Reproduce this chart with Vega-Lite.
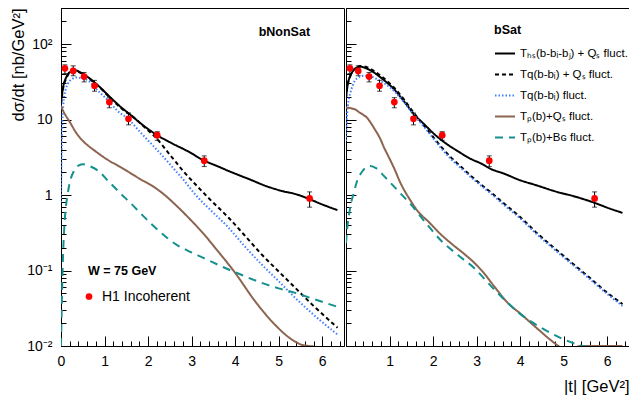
{
"$schema": "https://vega.github.io/schema/vega-lite/v6.json",
"padding": {"left": 10, "top": 7, "right": 0, "bottom": 0},
"config": {
 "view": {"stroke": "#000", "strokeWidth": 1},
 "font": "Liberation Sans",
 "axis": {"grid": false, "domainColor": "#000", "tickColor": "#000", "labelColor": "#000", "labelFont": "Liberation Sans", "labelFontSize": 14, "titleFont": "Liberation Sans", "titleFontSize": 16.5, "titleFontWeight": "normal", "titleColor": "#000", "tickWidth": 1, "domainWidth": 1, "labelFlush": false, "labelOverlap": false},
 "legend": {"labelFont": "Liberation Sans", "titleFont": "Liberation Sans", "labelColor": "#000", "titleColor": "#000"}
},
"datasets": {
 "h1": [
  {"t": 0.09, "v": 47.7, "lo": 40.7, "hi": 53, "src": "H1  Incoherent"},
  {"t": 0.28, "v": 44, "lo": 38, "hi": 51.4, "src": "H1  Incoherent"},
  {"t": 0.53, "v": 37, "lo": 31.5, "hi": 42, "src": "H1  Incoherent"},
  {"t": 0.77, "v": 28, "lo": 23.7, "hi": 33, "src": "H1  Incoherent"},
  {"t": 1.11, "v": 17, "lo": 14.3, "hi": 19.5, "src": "H1  Incoherent"},
  {"t": 1.55, "v": 10.2, "lo": 8.5, "hi": 12.2, "src": "H1  Incoherent"},
  {"t": 2.21, "v": 6.2, "lo": 5.3, "hi": 6.9, "src": "H1  Incoherent"},
  {"t": 3.29, "v": 2.85, "lo": 2.38, "hi": 3.3, "src": "H1  Incoherent"},
  {"t": 5.71, "v": 0.9, "lo": 0.69, "hi": 1.1, "src": "H1  Incoherent"}
 ],
 "curves": [
  {"p":"N","s":"hs","t":0,"v":16.8},{"p":"N","s":"hs","t":0.03,"v":23},{"p":"N","s":"hs","t":0.06,"v":29},{"p":"N","s":"hs","t":0.1,"v":34},{"p":"N","s":"hs","t":0.16,"v":40},{"p":"N","s":"hs","t":0.24,"v":43.5},{"p":"N","s":"hs","t":0.32,"v":45},{"p":"N","s":"hs","t":0.45,"v":42},{"p":"N","s":"hs","t":0.63,"v":36},{"p":"N","s":"hs","t":0.8,"v":30},{"p":"N","s":"hs","t":0.94,"v":25.3},{"p":"N","s":"hs","t":1.1,"v":20.5},{"p":"N","s":"hs","t":1.39,"v":14.4},{"p":"N","s":"hs","t":1.6,"v":11.5},{"p":"N","s":"hs","t":1.85,"v":8.7},{"p":"N","s":"hs","t":2.2,"v":6.25},{"p":"N","s":"hs","t":2.5,"v":5.0},{"p":"N","s":"hs","t":2.93,"v":3.75},{"p":"N","s":"hs","t":3.29,"v":2.85},{"p":"N","s":"hs","t":3.6,"v":2.4},{"p":"N","s":"hs","t":3.85,"v":2.08},{"p":"N","s":"hs","t":4.38,"v":1.57},{"p":"N","s":"hs","t":4.7,"v":1.32},{"p":"N","s":"hs","t":4.92,"v":1.2},{"p":"N","s":"hs","t":5.1,"v":1.12},{"p":"N","s":"hs","t":5.3,"v":1.06},{"p":"N","s":"hs","t":5.5,"v":0.98},{"p":"N","s":"hs","t":5.71,"v":0.88},{"p":"N","s":"hs","t":6.0,"v":0.75},{"p":"N","s":"hs","t":6.35,"v":0.63},
  {"p":"N","s":"qQs","t":0,"v":16},{"p":"N","s":"qQs","t":0.03,"v":22},{"p":"N","s":"qQs","t":0.06,"v":28},{"p":"N","s":"qQs","t":0.1,"v":33},{"p":"N","s":"qQs","t":0.16,"v":39},{"p":"N","s":"qQs","t":0.24,"v":43},{"p":"N","s":"qQs","t":0.32,"v":44},{"p":"N","s":"qQs","t":0.45,"v":41.5},{"p":"N","s":"qQs","t":0.63,"v":35.5},{"p":"N","s":"qQs","t":0.8,"v":29.5},{"p":"N","s":"qQs","t":0.94,"v":25},{"p":"N","s":"qQs","t":1.1,"v":20},{"p":"N","s":"qQs","t":1.39,"v":14},{"p":"N","s":"qQs","t":1.7,"v":10.3},{"p":"N","s":"qQs","t":1.95,"v":7.6},{"p":"N","s":"qQs","t":2.16,"v":5.9},{"p":"N","s":"qQs","t":2.54,"v":3.2},{"p":"N","s":"qQs","t":2.8,"v":2.1},{"p":"N","s":"qQs","t":3.08,"v":1.4},{"p":"N","s":"qQs","t":3.4,"v":0.9},{"p":"N","s":"qQs","t":3.85,"v":0.5},{"p":"N","s":"qQs","t":4.2,"v":0.3},{"p":"N","s":"qQs","t":4.61,"v":0.163},{"p":"N","s":"qQs","t":5.0,"v":0.097},{"p":"N","s":"qQs","t":5.38,"v":0.059},{"p":"N","s":"qQs","t":5.8,"v":0.034},{"p":"N","s":"qQs","t":6.35,"v":0.0175},
  {"p":"N","s":"q","t":0,"v":0.8},{"p":"N","s":"q","t":0.01,"v":2.5},{"p":"N","s":"q","t":0.025,"v":7},{"p":"N","s":"q","t":0.05,"v":15},{"p":"N","s":"q","t":0.1,"v":24},{"p":"N","s":"q","t":0.16,"v":30},{"p":"N","s":"q","t":0.24,"v":34},{"p":"N","s":"q","t":0.36,"v":36},{"p":"N","s":"q","t":0.5,"v":35},{"p":"N","s":"q","t":0.63,"v":32.6},{"p":"N","s":"q","t":0.85,"v":24},{"p":"N","s":"q","t":1.09,"v":17.7},{"p":"N","s":"q","t":1.3,"v":13},{"p":"N","s":"q","t":1.55,"v":10.1},{"p":"N","s":"q","t":1.8,"v":7},{"p":"N","s":"q","t":2.01,"v":5.2},{"p":"N","s":"q","t":2.31,"v":3.4},{"p":"N","s":"q","t":2.6,"v":2.2},{"p":"N","s":"q","t":2.85,"v":1.5},{"p":"N","s":"q","t":3.08,"v":1.02},{"p":"N","s":"q","t":3.45,"v":0.62},{"p":"N","s":"q","t":3.85,"v":0.368},{"p":"N","s":"q","t":4.2,"v":0.215},{"p":"N","s":"q","t":4.61,"v":0.12},{"p":"N","s":"q","t":5.0,"v":0.072},{"p":"N","s":"q","t":5.38,"v":0.0434},{"p":"N","s":"q","t":5.8,"v":0.026},{"p":"N","s":"q","t":6.35,"v":0.0142},
  {"p":"N","s":"PQs","t":0,"v":15.2},{"p":"N","s":"PQs","t":0.05,"v":13},{"p":"N","s":"PQs","t":0.1,"v":11.5},{"p":"N","s":"PQs","t":0.2,"v":9.3},{"p":"N","s":"PQs","t":0.32,"v":7.07},{"p":"N","s":"PQs","t":0.45,"v":5.6},{"p":"N","s":"PQs","t":0.63,"v":4.47},{"p":"N","s":"PQs","t":0.78,"v":3.84},{"p":"N","s":"PQs","t":1.05,"v":2.98},{"p":"N","s":"PQs","t":1.39,"v":2.3},{"p":"N","s":"PQs","t":1.8,"v":1.65},{"p":"N","s":"PQs","t":2.16,"v":1.25},{"p":"N","s":"PQs","t":2.4,"v":0.98},{"p":"N","s":"PQs","t":2.6,"v":0.77},{"p":"N","s":"PQs","t":2.93,"v":0.5},{"p":"N","s":"PQs","t":3.31,"v":0.29},{"p":"N","s":"PQs","t":3.54,"v":0.2},{"p":"N","s":"PQs","t":4.0,"v":0.093},{"p":"N","s":"PQs","t":4.46,"v":0.039},{"p":"N","s":"PQs","t":4.92,"v":0.019},{"p":"N","s":"PQs","t":5.3,"v":0.0122},{"p":"N","s":"PQs","t":5.55,"v":0.0103},{"p":"N","s":"PQs","t":5.8,"v":0.0099},
  {"p":"N","s":"PBG","t":0,"v":0.01},{"p":"N","s":"PBG","t":0.02,"v":0.04},{"p":"N","s":"PBG","t":0.04,"v":0.12},{"p":"N","s":"PBG","t":0.06,"v":0.25},{"p":"N","s":"PBG","t":0.09,"v":0.5},{"p":"N","s":"PBG","t":0.15,"v":1.0},{"p":"N","s":"PBG","t":0.21,"v":1.53},{"p":"N","s":"PBG","t":0.3,"v":2.1},{"p":"N","s":"PBG","t":0.4,"v":2.45},{"p":"N","s":"PBG","t":0.51,"v":2.55},{"p":"N","s":"PBG","t":0.65,"v":2.42},{"p":"N","s":"PBG","t":0.86,"v":2.08},{"p":"N","s":"PBG","t":1.1,"v":1.5},{"p":"N","s":"PBG","t":1.39,"v":1.02},{"p":"N","s":"PBG","t":1.6,"v":0.78},{"p":"N","s":"PBG","t":1.85,"v":0.555},{"p":"N","s":"PBG","t":2.1,"v":0.4},{"p":"N","s":"PBG","t":2.39,"v":0.285},{"p":"N","s":"PBG","t":2.65,"v":0.22},{"p":"N","s":"PBG","t":2.93,"v":0.181},{"p":"N","s":"PBG","t":3.27,"v":0.147},{"p":"N","s":"PBG","t":3.85,"v":0.103},{"p":"N","s":"PBG","t":4.2,"v":0.085},{"p":"N","s":"PBG","t":4.61,"v":0.0686},{"p":"N","s":"PBG","t":5.0,"v":0.058},{"p":"N","s":"PBG","t":5.38,"v":0.0505},{"p":"N","s":"PBG","t":5.8,"v":0.042},{"p":"N","s":"PBG","t":6.35,"v":0.033},
  {"p":"S","s":"hs","t":0,"v":19.5},{"p":"S","s":"hs","t":0.03,"v":27},{"p":"S","s":"hs","t":0.06,"v":33},{"p":"S","s":"hs","t":0.1,"v":38},{"p":"S","s":"hs","t":0.16,"v":44},{"p":"S","s":"hs","t":0.24,"v":48.5},{"p":"S","s":"hs","t":0.33,"v":50},{"p":"S","s":"hs","t":0.45,"v":48},{"p":"S","s":"hs","t":0.64,"v":42},{"p":"S","s":"hs","t":0.85,"v":34},{"p":"S","s":"hs","t":1.1,"v":25.3},{"p":"S","s":"hs","t":1.33,"v":17.5},{"p":"S","s":"hs","t":1.56,"v":11.8},{"p":"S","s":"hs","t":1.8,"v":8.6},{"p":"S","s":"hs","t":2.03,"v":6.4},{"p":"S","s":"hs","t":2.3,"v":4.8},{"p":"S","s":"hs","t":2.57,"v":3.8},{"p":"S","s":"hs","t":2.87,"v":3.0},{"p":"S","s":"hs","t":3.11,"v":2.6},{"p":"S","s":"hs","t":3.3,"v":2.25},{"p":"S","s":"hs","t":3.65,"v":1.9},{"p":"S","s":"hs","t":3.96,"v":1.6},{"p":"S","s":"hs","t":4.4,"v":1.33},{"p":"S","s":"hs","t":4.8,"v":1.12},{"p":"S","s":"hs","t":5.27,"v":0.95},{"p":"S","s":"hs","t":5.73,"v":0.78},{"p":"S","s":"hs","t":6.0,"v":0.68},{"p":"S","s":"hs","t":6.35,"v":0.58},
  {"p":"S","s":"qQs","t":0,"v":19},{"p":"S","s":"qQs","t":0.03,"v":27},{"p":"S","s":"qQs","t":0.06,"v":33},{"p":"S","s":"qQs","t":0.1,"v":38},{"p":"S","s":"qQs","t":0.16,"v":44},{"p":"S","s":"qQs","t":0.24,"v":49},{"p":"S","s":"qQs","t":0.33,"v":51},{"p":"S","s":"qQs","t":0.45,"v":50},{"p":"S","s":"qQs","t":0.64,"v":44},{"p":"S","s":"qQs","t":0.85,"v":36},{"p":"S","s":"qQs","t":1.1,"v":26.5},{"p":"S","s":"qQs","t":1.33,"v":18.5},{"p":"S","s":"qQs","t":1.56,"v":12.2},{"p":"S","s":"qQs","t":1.8,"v":8.2},{"p":"S","s":"qQs","t":2.03,"v":5.6},{"p":"S","s":"qQs","t":2.18,"v":4.4},{"p":"S","s":"qQs","t":2.41,"v":3.15},{"p":"S","s":"qQs","t":2.65,"v":2.35},{"p":"S","s":"qQs","t":2.87,"v":1.79},{"p":"S","s":"qQs","t":3.1,"v":1.38},{"p":"S","s":"qQs","t":3.34,"v":1.07},{"p":"S","s":"qQs","t":3.65,"v":0.753},{"p":"S","s":"qQs","t":4.0,"v":0.51},{"p":"S","s":"qQs","t":4.42,"v":0.3},{"p":"S","s":"qQs","t":4.8,"v":0.195},{"p":"S","s":"qQs","t":5.19,"v":0.126},{"p":"S","s":"qQs","t":5.6,"v":0.08},{"p":"S","s":"qQs","t":5.96,"v":0.053},{"p":"S","s":"qQs","t":6.35,"v":0.036},
  {"p":"S","s":"q","t":0,"v":5.2},{"p":"S","s":"q","t":0.015,"v":9},{"p":"S","s":"q","t":0.03,"v":12.5},{"p":"S","s":"q","t":0.06,"v":18},{"p":"S","s":"q","t":0.1,"v":22.5},{"p":"S","s":"q","t":0.16,"v":29},{"p":"S","s":"q","t":0.25,"v":35},{"p":"S","s":"q","t":0.4,"v":38},{"p":"S","s":"q","t":0.55,"v":37.5},{"p":"S","s":"q","t":0.7,"v":34.5},{"p":"S","s":"q","t":0.85,"v":31},{"p":"S","s":"q","t":1.1,"v":24},{"p":"S","s":"q","t":1.33,"v":17},{"p":"S","s":"q","t":1.56,"v":11.5},{"p":"S","s":"q","t":1.8,"v":7.9},{"p":"S","s":"q","t":2.03,"v":5.4},{"p":"S","s":"q","t":2.18,"v":4.2},{"p":"S","s":"q","t":2.41,"v":3.0},{"p":"S","s":"q","t":2.65,"v":2.25},{"p":"S","s":"q","t":2.87,"v":1.72},{"p":"S","s":"q","t":3.1,"v":1.33},{"p":"S","s":"q","t":3.34,"v":1.03},{"p":"S","s":"q","t":3.65,"v":0.72},{"p":"S","s":"q","t":4.0,"v":0.49},{"p":"S","s":"q","t":4.42,"v":0.288},{"p":"S","s":"q","t":4.8,"v":0.187},{"p":"S","s":"q","t":5.19,"v":0.121},{"p":"S","s":"q","t":5.6,"v":0.077},{"p":"S","s":"q","t":5.96,"v":0.051},{"p":"S","s":"q","t":6.35,"v":0.034},
  {"p":"S","s":"PQs","t":0,"v":14.4},{"p":"S","s":"PQs","t":0.07,"v":14.3},{"p":"S","s":"PQs","t":0.14,"v":14},{"p":"S","s":"PQs","t":0.22,"v":13.5},{"p":"S","s":"PQs","t":0.3,"v":12.5},{"p":"S","s":"PQs","t":0.4,"v":11.5},{"p":"S","s":"PQs","t":0.48,"v":10.6},{"p":"S","s":"PQs","t":0.56,"v":9.2},{"p":"S","s":"PQs","t":0.65,"v":7.6},{"p":"S","s":"PQs","t":0.79,"v":5.5},{"p":"S","s":"PQs","t":0.87,"v":4.3},{"p":"S","s":"PQs","t":0.98,"v":3.2},{"p":"S","s":"PQs","t":1.1,"v":2.3},{"p":"S","s":"PQs","t":1.25,"v":1.45},{"p":"S","s":"PQs","t":1.49,"v":0.83},{"p":"S","s":"PQs","t":1.64,"v":0.62},{"p":"S","s":"PQs","t":1.9,"v":0.44},{"p":"S","s":"PQs","t":2.18,"v":0.3},{"p":"S","s":"PQs","t":2.45,"v":0.22},{"p":"S","s":"PQs","t":2.72,"v":0.165},{"p":"S","s":"PQs","t":2.95,"v":0.126},{"p":"S","s":"PQs","t":3.15,"v":0.095},{"p":"S","s":"PQs","t":3.4,"v":0.062},{"p":"S","s":"PQs","t":3.72,"v":0.037},{"p":"S","s":"PQs","t":4.0,"v":0.027},{"p":"S","s":"PQs","t":4.42,"v":0.0165},{"p":"S","s":"PQs","t":4.7,"v":0.012},{"p":"S","s":"PQs","t":4.88,"v":0.01},{"p":"S","s":"PQs","t":5.1,"v":0.0085},{"p":"S","s":"PQs","t":5.38,"v":0.01},{"p":"S","s":"PQs","t":6.35,"v":0.01},
  {"p":"S","s":"PBG","t":0,"v":0.23},{"p":"S","s":"PBG","t":0.015,"v":0.3},{"p":"S","s":"PBG","t":0.03,"v":0.37},{"p":"S","s":"PBG","t":0.08,"v":0.6},{"p":"S","s":"PBG","t":0.12,"v":0.8},{"p":"S","s":"PBG","t":0.17,"v":1.02},{"p":"S","s":"PBG","t":0.25,"v":1.5},{"p":"S","s":"PBG","t":0.33,"v":1.88},{"p":"S","s":"PBG","t":0.45,"v":2.3},{"p":"S","s":"PBG","t":0.56,"v":2.43},{"p":"S","s":"PBG","t":0.7,"v":2.25},{"p":"S","s":"PBG","t":0.87,"v":1.79},{"p":"S","s":"PBG","t":1.1,"v":1.3},{"p":"S","s":"PBG","t":1.3,"v":0.98},{"p":"S","s":"PBG","t":1.49,"v":0.75},{"p":"S","s":"PBG","t":1.8,"v":0.45},{"p":"S","s":"PBG","t":2.18,"v":0.25},{"p":"S","s":"PBG","t":2.57,"v":0.16},{"p":"S","s":"PBG","t":2.95,"v":0.107},{"p":"S","s":"PBG","t":3.3,"v":0.065},{"p":"S","s":"PBG","t":3.72,"v":0.037},{"p":"S","s":"PBG","t":4.1,"v":0.024},{"p":"S","s":"PBG","t":4.5,"v":0.0173},{"p":"S","s":"PBG","t":4.9,"v":0.013},{"p":"S","s":"PBG","t":5.38,"v":0.0102},{"p":"S","s":"PBG","t":5.5,"v":0.0098}
 ]
},
"spacing": 0,
"resolve": {"scale": {"color": "independent", "strokeDash": "independent", "strokeWidth": "independent", "fill": "independent", "x": "independent", "y": "independent"}, "legend": {"color": "independent", "strokeDash": "independent", "fill": "independent"}},
"hconcat": [
 {
  "width": 283, "height": 338,
  "resolve": {"axis": {"x": "independent", "y": "independent"}},
  "layer": [
   {"data": {"name": "curves"}, "transform": [{"filter": "datum.p == 'N'"}],
    "mark": {"type": "line", "clip": true, "interpolate": "monotone"},
    "encoding": {
     "x": {"field": "t", "type": "quantitative", "scale": {"domain": [0, 6.5], "nice": false, "zero": false},
           "axis": {"orient": "bottom", "values": [0,1,2,3,4,5,6], "tickSize": -10, "labelPadding": 18, "format": "d", "title": null}},
     "y": {"field": "v", "type": "quantitative", "scale": {"type": "log", "domain": [0.01, 300], "nice": false},
           "axis": {"orient": "left", "values": [0.01,0.1,1,10,100], "tickSize": -10, "labelPadding": 19, "labelExpr": "datum.value >= 99 ? '10²' : datum.value >= 9 ? '10' : datum.value >= 0.9 ? '1' : datum.value >= 0.09 ? '10⁻¹' : '10⁻²'", "title": "dσ/dt  [nb/GeV²]", "titleAnchor": "end", "titlePadding": 0}},
     "color": {"field": "s", "type": "nominal", "scale": {"domain": ["hs","qQs","q","PQs","PBG"], "range": ["#000000","#000000","#3f7fff","#8c6450","#15908e"]}, "legend": null},
     "strokeDash": {"field": "s", "type": "nominal", "scale": {"domain": ["hs","qQs","q","PQs","PBG"], "range": [[1,0],[4,3],[1.5,2],[1,0],[8,6]]}, "legend": null},
     "strokeWidth": {"field": "s", "type": "nominal", "scale": {"domain": ["hs","qQs","q","PQs","PBG"], "range": [2,2,1.5,1.8,1.5]}, "legend": null}
    }},
   {"data": {"name": "h1"}, "mark": {"type": "rule", "color": "#000", "strokeWidth": 1},
    "encoding": {
     "x": {"field": "t", "type": "quantitative", "scale": {"domain": [0, 6.5], "nice": false, "zero": false},
           "axis": {"orient": "bottom", "values": [0.2,0.4,0.6,0.8,1.2,1.4,1.6,1.8,2.2,2.4,2.6,2.8,3.2,3.4,3.6,3.8,4.2,4.4,4.6,4.8,5.2,5.4,5.6,5.8,6.2,6.4], "tickSize": -5, "labels": false, "domain": false, "title": null}},
     "y": {"field": "lo", "type": "quantitative", "scale": {"type": "log", "domain": [0.01, 300], "nice": false},
           "axis": {"orient": "left", "values": [0.02,0.03,0.04,0.05,0.06,0.07,0.08,0.09,0.2,0.3,0.4,0.5,0.6,0.7,0.8,0.9,2,3,4,5,6,7,8,9,20,30,40,50,60,70,80,90,200,300], "tickSize": -5, "labels": false, "domain": false, "title": null}},
     "y2": {"field": "hi"}
    }},
   {"data": {"name": "h1"}, "mark": {"type": "tick", "orient": "horizontal", "size": 5, "thickness": 1, "color": "#000"},
    "encoding": {
     "x": {"field": "t", "type": "quantitative", "scale": {"domain": [0, 6.5], "nice": false, "zero": false}, "axis": null},
     "y": {"field": "lo", "type": "quantitative", "scale": {"type": "log", "domain": [0.01, 300], "nice": false}, "axis": null}
    }},
   {"data": {"name": "h1"}, "mark": {"type": "tick", "orient": "horizontal", "size": 5, "thickness": 1, "color": "#000"},
    "encoding": {
     "x": {"field": "t", "type": "quantitative", "scale": {"domain": [0, 6.5], "nice": false, "zero": false}, "axis": null},
     "y": {"field": "hi", "type": "quantitative", "scale": {"type": "log", "domain": [0.01, 300], "nice": false}, "axis": null}
    }},
   {"data": {"name": "h1"}, "mark": {"type": "circle", "size": 45, "opacity": 1},
    "encoding": {
     "x": {"field": "t", "type": "quantitative", "scale": {"domain": [0, 6.5], "nice": false, "zero": false}, "axis": null},
     "y": {"field": "v", "type": "quantitative", "scale": {"type": "log", "domain": [0.01, 300], "nice": false}, "axis": null},
     "fill": {"field": "src", "type": "nominal", "scale": {"domain": ["H1  Incoherent"], "range": ["#ff0000"]},
              "legend": {"title": "W = 75 GeV", "orient": "none", "legendX": 27, "legendY": 257, "labelFontSize": 14, "titleFontSize": 12.5, "titleFontWeight": "bold", "titlePadding": 12, "labelOffset": 6, "symbolOffset": -6, "symbolSize": 45, "symbolType": "circle", "symbolStrokeWidth": 0}}
    }},
   {"data": {"values": [{}]}, "mark": {"type": "text", "fontWeight": "bold", "fontSize": 12.5, "font": "Liberation Sans", "align": "center", "baseline": "middle", "color": "#000"},
    "encoding": {
     "x": {"datum": 5.13, "type": "quantitative", "scale": {"domain": [0, 6.5], "nice": false, "zero": false}, "axis": null},
     "y": {"datum": 146, "type": "quantitative", "scale": {"type": "log", "domain": [0.01, 300], "nice": false}, "axis": null},
     "text": {"value": "bNonSat"}
    }}
  ]
 },
 {
  "width": 283, "height": 338,
  "resolve": {"axis": {"x": "independent", "y": "independent"}},
  "layer": [
   {"data": {"name": "curves"}, "transform": [{"filter": "datum.p == 'S'"}],
    "mark": {"type": "line", "clip": true, "interpolate": "monotone"},
    "encoding": {
     "x": {"field": "t", "type": "quantitative", "scale": {"domain": [0, 6.5], "nice": false, "zero": false},
           "axis": {"orient": "bottom", "values": [1,2,3,4,5,6], "tickSize": -10, "labelPadding": 18, "format": "d", "title": "|t| [GeV²]", "titleAnchor": "end", "titlePadding": 10}},
     "y": {"field": "v", "type": "quantitative", "scale": {"type": "log", "domain": [0.01, 300], "nice": false},
           "axis": {"orient": "left", "values": [0.01,0.1,1,10,100], "tickSize": -10, "labels": false, "title": null, "minExtent": 0, "maxExtent": 0}},
     "color": {"field": "s", "type": "nominal", "scale": {"domain": ["hs","qQs","q","PQs","PBG"], "range": ["#000000","#000000","#3f7fff","#8c6450","#15908e"]},
               "legend": {"title": "bSat", "orient": "none", "legendX": 148, "legendY": 16, "symbolType": "stroke", "symbolSize": 400, "symbolStrokeWidth": 2, "labelFontSize": 11.5, "titleFontSize": 12.5, "titleFontWeight": "bold", "rowPadding": 4, "labelOffset": 4, "titlePadding": 6,
                          "labelExpr": "datum.value == 'hs' ? 'Tₕₛ(b-bᵢ-bⱼ) + Qₛ fluct.' : datum.value == 'qQs' ? 'Tq(b-bᵢ) + Qₛ fluct.' : datum.value == 'q' ? 'Tq(b-bᵢ) fluct.' : datum.value == 'PQs' ? 'Tₚ(b)+Qₛ fluct.' : 'Tₚ(b)+Bɢ fluct.'"}},
     "strokeDash": {"field": "s", "type": "nominal", "scale": {"domain": ["hs","qQs","q","PQs","PBG"], "range": [[1,0],[4,3],[1.5,2],[1,0],[8,6]]},
               "legend": {"title": "bSat", "orient": "none", "legendX": 148, "legendY": 16, "symbolType": "stroke", "symbolSize": 400, "symbolStrokeWidth": 2, "labelFontSize": 11.5, "titleFontSize": 12.5, "titleFontWeight": "bold", "rowPadding": 4, "labelOffset": 4, "titlePadding": 6,
                          "labelExpr": "datum.value == 'hs' ? 'Tₕₛ(b-bᵢ-bⱼ) + Qₛ fluct.' : datum.value == 'qQs' ? 'Tq(b-bᵢ) + Qₛ fluct.' : datum.value == 'q' ? 'Tq(b-bᵢ) fluct.' : datum.value == 'PQs' ? 'Tₚ(b)+Qₛ fluct.' : 'Tₚ(b)+Bɢ fluct.'"}},
     "strokeWidth": {"field": "s", "type": "nominal", "scale": {"domain": ["hs","qQs","q","PQs","PBG"], "range": [2,2,1.5,1.8,1.5]}, "legend": null}
    }},
   {"data": {"name": "h1"}, "mark": {"type": "rule", "color": "#000", "strokeWidth": 1},
    "encoding": {
     "x": {"field": "t", "type": "quantitative", "scale": {"domain": [0, 6.5], "nice": false, "zero": false},
           "axis": {"orient": "bottom", "values": [0.2,0.4,0.6,0.8,1.2,1.4,1.6,1.8,2.2,2.4,2.6,2.8,3.2,3.4,3.6,3.8,4.2,4.4,4.6,4.8,5.2,5.4,5.6,5.8,6.2,6.4], "tickSize": -5, "labels": false, "domain": false, "title": null}},
     "y": {"field": "lo", "type": "quantitative", "scale": {"type": "log", "domain": [0.01, 300], "nice": false},
           "axis": {"orient": "left", "values": [0.02,0.03,0.04,0.05,0.06,0.07,0.08,0.09,0.2,0.3,0.4,0.5,0.6,0.7,0.8,0.9,2,3,4,5,6,7,8,9,20,30,40,50,60,70,80,90,200,300], "tickSize": -5, "labels": false, "domain": false, "title": null, "minExtent": 0, "maxExtent": 0}},
     "y2": {"field": "hi"}
    }},
   {"data": {"name": "h1"}, "mark": {"type": "tick", "orient": "horizontal", "size": 5, "thickness": 1, "color": "#000"},
    "encoding": {
     "x": {"field": "t", "type": "quantitative", "scale": {"domain": [0, 6.5], "nice": false, "zero": false}, "axis": null},
     "y": {"field": "lo", "type": "quantitative", "scale": {"type": "log", "domain": [0.01, 300], "nice": false}, "axis": null}
    }},
   {"data": {"name": "h1"}, "mark": {"type": "tick", "orient": "horizontal", "size": 5, "thickness": 1, "color": "#000"},
    "encoding": {
     "x": {"field": "t", "type": "quantitative", "scale": {"domain": [0, 6.5], "nice": false, "zero": false}, "axis": null},
     "y": {"field": "hi", "type": "quantitative", "scale": {"type": "log", "domain": [0.01, 300], "nice": false}, "axis": null}
    }},
   {"data": {"name": "h1"}, "mark": {"type": "circle", "size": 45, "opacity": 1, "color": "#ff0000"},
    "encoding": {
     "x": {"field": "t", "type": "quantitative", "scale": {"domain": [0, 6.5], "nice": false, "zero": false}, "axis": null},
     "y": {"field": "v", "type": "quantitative", "scale": {"type": "log", "domain": [0.01, 300], "nice": false}, "axis": null}
    }}
  ]
 }
]
}
